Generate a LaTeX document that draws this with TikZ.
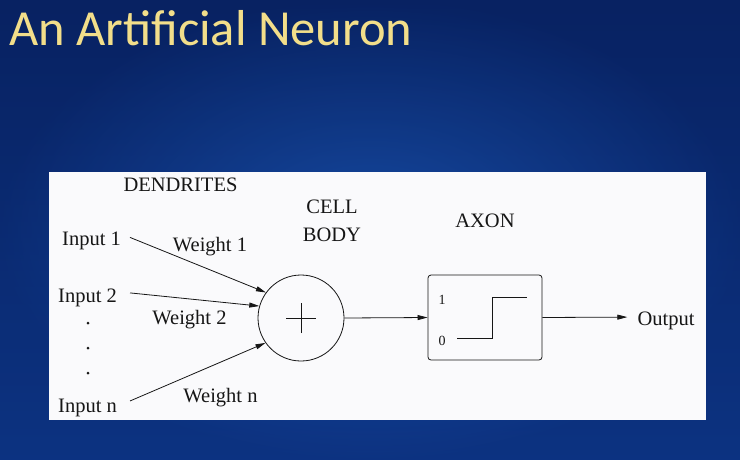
\documentclass[tikz,border=0pt]{standalone}
\usepackage{fontspec}
\setmainfont{Liberation Serif}
\newfontfamily\titlefont{Carlito}
\usetikzlibrary{arrows.meta}
\definecolor{bgtop}{RGB}{8,34,98}
\definecolor{bgmid}{RGB}{24,90,192}
\definecolor{bgbot}{RGB}{16,62,150}
\definecolor{glow}{RGB}{35,110,215}
\definecolor{titlegold}{RGB}{242,222,138}
\definecolor{ink}{RGB}{22,22,22}
\definecolor{panel}{RGB}{250,250,252}
\begin{document}
\begin{tikzpicture}[x=1pt,y=-1pt,
  lbl/.style={font=\fontsize{20.5}{24}\selectfont, text=ink, inner sep=0pt, anchor=base},
  small/.style={font=\fontsize{14}{16}\selectfont, text=ink, inner sep=0pt},
  conn/.style={draw=ink, line width=0.8pt, -{Triangle[length=10pt,width=5pt]}},
  shape line/.style={draw=ink, line width=0.8pt}]
\useasboundingbox (0,0) rectangle (740,459);
% background
\shade[top color=bgtop, middle color=bgmid, bottom color=bgbot] (0,0) rectangle (740,459);
\shade[inner color=glow, outer color=bgtop, opacity=0.4] (0,0) rectangle (740,459);
% title
\node[anchor=base west, inner sep=0pt, font=\titlefont\fontsize{50.5}{60}\selectfont, text=titlegold] (title) at (9,45) {An Artificial Neuron};
% panel
\fill[panel] (49,172) rectangle (706,420);
% labels
\node[lbl] (dend) at (180.5,191) {DENDRITES};
\node[lbl] (cell) at (332,213) {CELL};
\node[lbl] (body) at (332,241) {BODY};
\node[lbl] (axon) at (485,227) {AXON};
\node[lbl] (in1) at (91.5,245) {Input 1};
\node[lbl] (in2) at (87.5,302) {Input 2};
\node[lbl] (inn) at (87.5,412) {Input n};
\node[lbl] (w1) at (210,251) {Weight 1};
\node[lbl] (w2) at (189.5,324) {Weight 2};
\node[lbl] (wn) at (220.5,402) {Weight n};
\node[lbl] (out) at (666,325) {Output};
\fill[ink] (88,323) circle (1.5) (88,348) circle (1.5) (88,373) circle (1.5);
% cell body
\node[circle, shape line, minimum size=86pt, inner sep=0pt] (sum) at (301,318) {};
\draw[ink, line width=0.7pt] ([xshift=-15pt]sum.center) -- ([xshift=15pt]sum.center)
  ([yshift=-15pt]sum.center) -- ([yshift=15pt]sum.center);
% axon box
\node[rectangle, shape line, rounded corners=3pt, minimum width=114pt, minimum height=85pt, inner sep=0pt] (ax) at (485,317.5) {};
\node[small] (one) at (442,300) {1};
\node[small] (zero) at (442,341) {0};
\coordinate (stepa) at (457,338);
\coordinate (stepb) at (527,297);
\draw[ink, line width=0.8pt] (stepa) -- (stepa -| 492,0) -- (stepb -| 492,0) -- (stepb);
% connectors
\draw[conn] ([xshift=9pt,yshift=3pt]in1.east) -- (sum.144);
\draw[conn] ([xshift=13pt,yshift=4.5pt]in2.east) -- (sum.164);
\draw[conn] ([xshift=13pt,yshift=6.5pt]inn.east) -- (sum.215);
\draw[conn] (sum.east) -- (ax.west);
\draw[conn] (ax.east) -- ([xshift=-10pt,yshift=3.3pt]out.west);
\end{tikzpicture}
\end{document}
